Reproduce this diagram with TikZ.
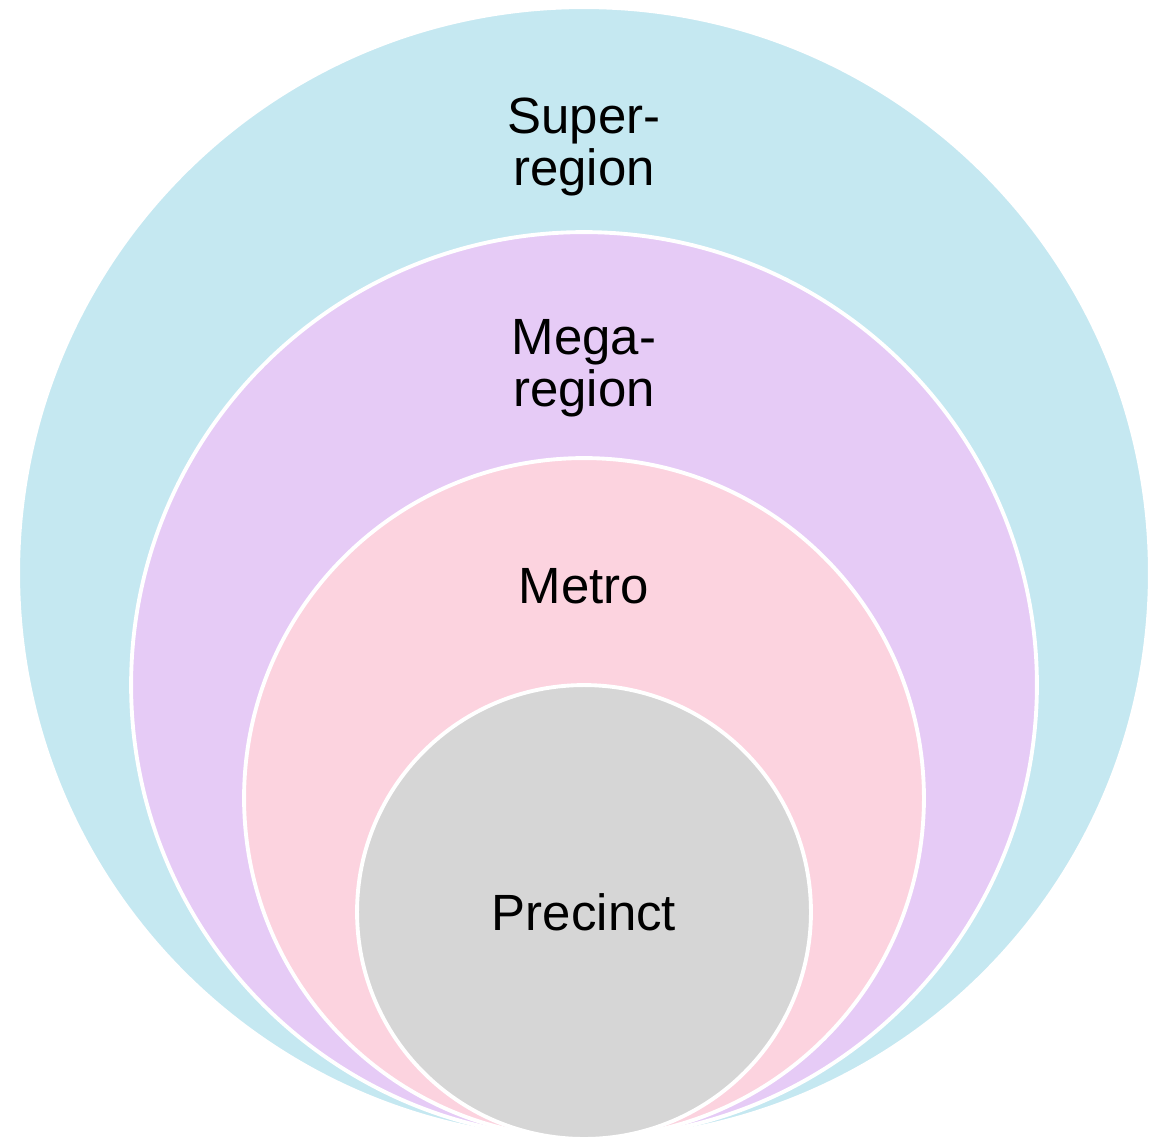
\documentclass[tikz,border=0pt]{standalone}
\usepackage{fontspec}
\setmainfont{Liberation Sans}
\usepackage{xcolor}
\usepackage{tikz}
\usetikzlibrary{positioning}

\definecolor{superblue}{HTML}{C5E8F1}
\definecolor{megapurple}{HTML}{E6CBF6}
\definecolor{metropink}{HTML}{FCD3DF}
\definecolor{precinctgray}{HTML}{D6D6D6}

\begin{document}
\begin{tikzpicture}[
    x=0.02cm, y=-0.02cm,
    ring/.style={circle, draw=white, line width=2.2pt, inner sep=0pt},
    lbl/.style={font=\fontsize{29}{29.5}\selectfont, align=center, text=black}
]

\useasboundingbox (0,0) rectangle (1168,1140);

% Nested circles, all touching at the bottom
\node[ring, fill=superblue,    minimum size=22.64cm] (super)    at (584,573) {};
\node[ring, fill=megapurple,   minimum size=18.12cm] (mega)     at (584,685) {};
\node[ring, fill=metropink,    minimum size=13.6cm]  (metro)    at (584,798) {};
\node[ring, fill=precinctgray, minimum size=9.08cm]  (precinct) at (584,912) {};

% Labels
\node[lbl] (super_lbl)    at (584,147) {Super-\\region};
\node[lbl] (mega_lbl)     at (584,368) {Mega-\\region};
\node[lbl] (metro_lbl)    at (584,586) {Metro};
\node[lbl] (precinct_lbl) at (precinct) {Precinct};

\end{tikzpicture}
\end{document}
